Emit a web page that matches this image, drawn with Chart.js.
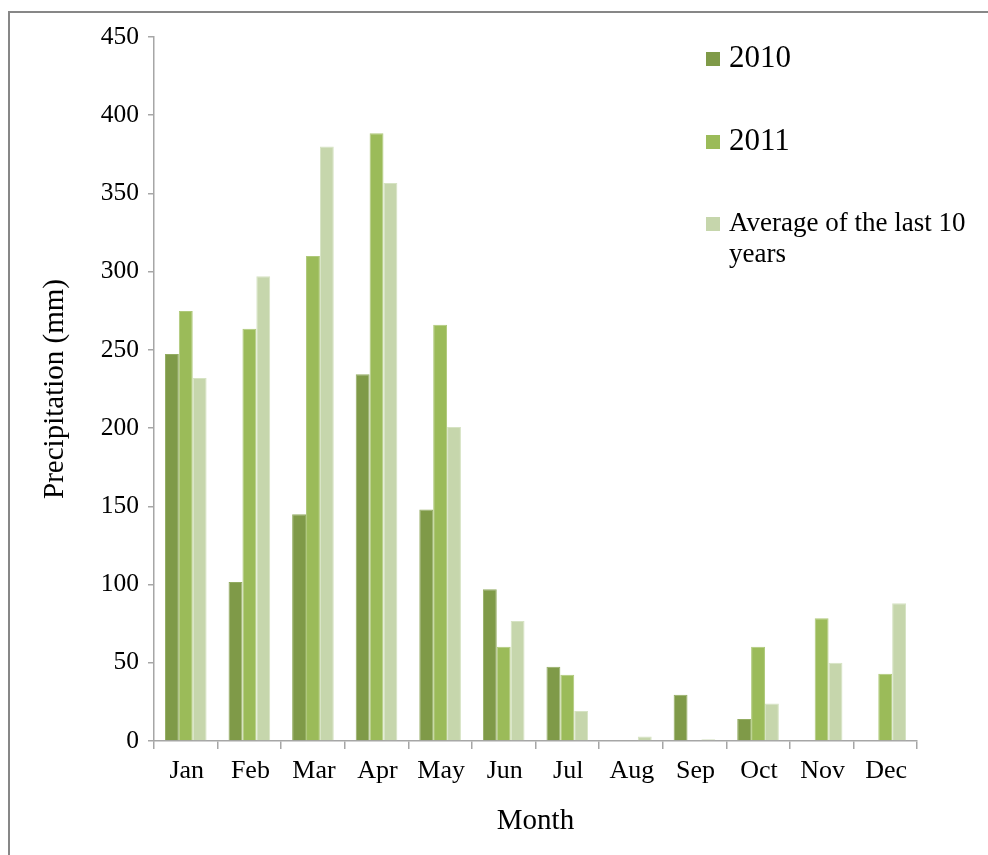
<!DOCTYPE html>
<html>
<head>
<meta charset="utf-8">
<script src="https://cdn.jsdelivr.net/npm/chart.js@4.4.0/dist/chart.umd.min.js"></script>
<style>
  html, body { margin: 0; padding: 0; background: #fff; overflow: hidden; }
  #frame { position: absolute; left: 8px; top: 11px; width: 1100px; height: 1000px;
           border-left: 2px solid #878787; border-top: 2px solid #878787; }
  #wrap { position: absolute; left: 0; top: 0; width: 988px; height: 855px; }
  #legend { position: absolute; left: 0; top: 0; font-family: "Liberation Serif", "Times New Roman", serif; color: #000; }
  .sw { position: absolute; width: 14px; height: 14px; }
  .lt { position: absolute; white-space: normal; }
</style>
</head>
<body>
<div id="frame"></div>
<div id="wrap"><canvas id="c" width="988" height="855"></canvas></div>
<div id="legend"></div>
<script>
const months = ["Jan","Feb","Mar","Apr","May","Jun","Jul","Aug","Sep","Oct","Nov","Dec"];
const seriesNames = ["2010", "2011", "Average of the last 10 years"];
const precip2010 = [247.4, 101.6, 145, 234.5, 148, 97, 47.5, 0, 29.5, 14, 0, 0];
const precip2011 = [274.8, 263.5, 310, 388.5, 266, 60.3, 42.4, 0, 0, 60.3, 78.4, 43];
const precipAvg = [232, 297, 380, 356.7, 200.7, 76.7, 19.2, 2.8, 1.1, 24, 50, 88];
const yTicks = [0, 50, 100, 150, 200, 250, 300, 350, 400, 450];

const colors = ["#7F9A48", "#9BBB59", "#C6D6AC"];
const borders = ["#93AC62", "#AFC97A", "#D6E3C3"];
const FONT = "'Liberation Serif', 'Times New Roman', serif";

const datasets = [precip2010, precip2011, precipAvg].map((d, i) => ({
  label: seriesNames[i],
  data: d,
  backgroundColor: colors[i],
  borderColor: borders[i],
  borderWidth: 1,
  borderSkipped: 'bottom',
  categoryPercentage: 0.655,
  barPercentage: 1.0
}));

const chart = new Chart(document.getElementById('c'), {
  type: 'bar',
  data: { labels: months, datasets },
  options: {
    responsive: false,
    animation: false,
    events: [],
    layout: { padding: { top: 37, right: 71, left: 1, bottom: 0 } },
    plugins: { legend: { display: false }, tooltip: { enabled: false } },
    scales: {
      x: {
        offset: true,
        grid: { display: true, drawOnChartArea: false, drawTicks: true, tickLength: 8, offset: true, color: '#A6A6A6', lineWidth: 1.5 },
        border: { display: true, color: '#A6A6A6', width: 1.5 },
        ticks: { color: '#000', padding: 7, labelOffset: 1, font: { family: FONT, size: 26 }, maxRotation: 0 },
        title: { display: true, text: 'Month', color: '#000', font: { family: FONT, size: 29 }, padding: { top: 0, bottom: 16 } },
        afterFit: s => { s.height = 114; }
      },
      y: {
        min: 0, max: 450,
        afterBuildTicks: s => { s.ticks = yTicks.map(v => ({ value: v })); },
        grid: { display: true, drawOnChartArea: false, drawTicks: true, tickLength: 6, color: '#A6A6A6', lineWidth: 1.5 },
        border: { display: true, color: '#A6A6A6', width: 1.5 },
        ticks: { color: '#000', padding: 9, font: { family: FONT, size: 25.5 } },
        title: { display: true, text: 'Precipitation (mm)', color: '#000', font: { family: FONT, size: 29 }, padding: { top: 37, bottom: 0 } },
        afterFit: s => { s.width = 153; }
      }
    }
  }
});

// HTML legend built from the chart's datasets
const legendPos = [
  { sx: 706, sy: 52, tx: 729, ty: 41, size: 31, lh: 31 },
  { sx: 706, sy: 135, tx: 729, ty: 124, size: 31, lh: 31 },
  { sx: 706, sy: 217, tx: 729, ty: 207, size: 27, lh: 31 }
];
const lg = document.getElementById('legend');
chart.data.datasets.forEach((ds, i) => {
  const p = legendPos[i];
  const sw = document.createElement('div');
  sw.className = 'sw';
  sw.style.left = p.sx + 'px'; sw.style.top = p.sy + 'px';
  sw.style.background = ds.backgroundColor;
  lg.appendChild(sw);
  const t = document.createElement('div');
  t.className = 'lt';
  t.style.left = p.tx + 'px'; t.style.top = p.ty + 'px';
  t.style.fontSize = p.size + 'px'; t.style.lineHeight = p.lh + 'px';
  t.style.width = '252px';
  t.textContent = ds.label;
  lg.appendChild(t);
});
</script>
</body>
</html>
